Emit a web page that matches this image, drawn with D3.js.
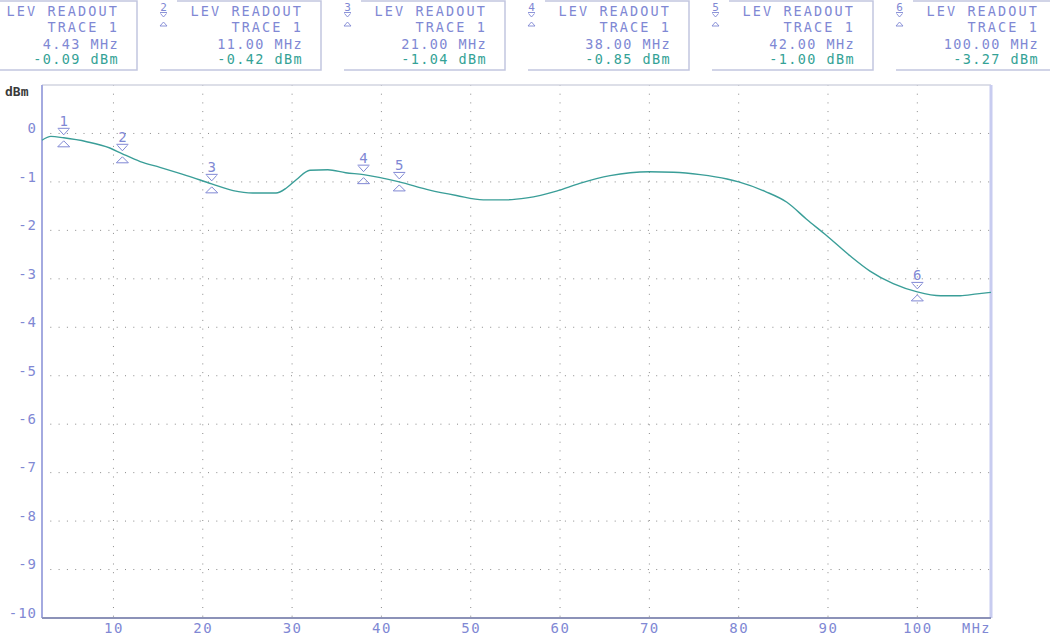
<!DOCTYPE html>
<html>
<head>
<meta charset="utf-8">
<script src="https://cdn.jsdelivr.net/npm/d3@7/dist/d3.min.js"></script>
<style>
  html, body { margin: 0; padding: 0; background: #ffffff; }
  svg { display: block; }
  text { font-family: "DejaVu Sans Mono", "Liberation Mono", monospace; }
</style>
</head>
<body>
<svg id="chart" width="1050" height="641"></svg>
<script>
// ---- data ----
const freqs = [2, 3, 4.43, 7, 9.6, 11, 13, 15.2, 18.2, 21, 23.4, 25.6, 28.2, 29.4, 30.5, 32, 34, 36, 38, 42, 45.4, 48.4, 51.4, 54, 56.3, 59.6, 62.2, 65.6, 70, 72.7, 75.7, 78.7, 80, 83, 85.4, 87.6, 89.8, 92.5, 94.7, 97.3, 100, 102.6, 104.8, 106.7, 108.25];
const levels = [-0.14, -0.06, -0.09, -0.17, -0.30, -0.42, -0.58, -0.70, -0.87, -1.04, -1.18, -1.23, -1.23, -1.12, -0.95, -0.76, -0.75, -0.81, -0.85, -1.00, -1.17, -1.28, -1.37, -1.37, -1.33, -1.19, -1.03, -0.87, -0.79, -0.80, -0.85, -0.94, -1.00, -1.20, -1.42, -1.77, -2.10, -2.53, -2.84, -3.10, -3.27, -3.35, -3.35, -3.31, -3.28];

const markerNums = [1, 2, 3, 4, 5, 6];
const markerFreqs = [4.43, 11.00, 21.00, 38.00, 42.00, 100.00];
const markerLevels = [-0.09, -0.42, -1.04, -0.85, -1.00, -3.27];

const xTicks = [10, 20, 30, 40, 50, 60, 70, 80, 90, 100];
const yTicks = [0, -1, -2, -3, -4, -5, -6, -7, -8, -9, -10];

// ---- styling ----
const lav = "#8088d4";
const teal = "#34a296";
const svg = d3.select("#chart");

const L = 42, R = 991, T = 85, B = 618;
const x = d3.scaleLinear().domain([2, 108.25]).range([L, R]);
const y = d3.scaleLinear().domain([-10, 1]).range([B, T]);

// ---- header readout boxes ----
const boxW = 161, boxH = 70, boxStep = 184, box0 = -24;
const boxes = svg.append("g").selectAll("g").data(markerNums).join("g")
  .attr("transform", (d, i) => `translate(${box0 + i * boxStep},0)`);
boxes.append("path")
  .attr("d", `M17,1 H${boxW} V${boxH} H0`)
  .attr("fill", "none").attr("stroke", "#c2c6e0").attr("stroke-width", 1.5);
// small marker glyph at box left (only where it falls inside the picture)
const glyphBoxes = boxes.filter((d, i) => box0 + i * boxStep >= 0);
glyphBoxes.append("text").attr("x", 3.5).attr("y", 10.5).attr("text-anchor", "middle")
  .attr("font-size", 11).attr("fill", lav).text(d => d);
glyphBoxes.append("path").attr("d", "M0,12.5 H7 M0.5,13.5 L3.5,17 L6.5,13.5")
  .attr("fill", "none").attr("stroke", lav).attr("stroke-width", 0.9);
glyphBoxes.append("path").attr("d", "M0,26 H7 L3.5,22 Z")
  .attr("fill", "none").attr("stroke", lav).attr("stroke-width", 0.9);
const tx = 143;
boxes.append("text").attr("x", tx).attr("y", 16).attr("text-anchor", "end")
  .attr("font-size", 13.5).attr("letter-spacing", "2.1px").attr("fill", lav).text("LEV READOUT");
boxes.append("text").attr("x", tx).attr("y", 32).attr("text-anchor", "end")
  .attr("font-size", 13.5).attr("letter-spacing", "2.1px").attr("fill", lav).text("TRACE 1");
boxes.append("text").attr("x", tx).attr("y", 49).attr("text-anchor", "end")
  .attr("font-size", 13.5).attr("letter-spacing", "1.4px").attr("fill", lav)
  .text((d, i) => markerFreqs[i].toFixed(2) + " MHz");
boxes.append("text").attr("x", tx).attr("y", 64).attr("text-anchor", "end")
  .attr("font-size", 13.5).attr("letter-spacing", "1.4px").attr("fill", teal)
  .text((d, i) => markerLevels[i].toFixed(2) + " dBm");

// ---- grid ----
const grid = svg.append("g");
grid.selectAll("line.h").data(yTicks.filter(v => v > -10)).join("line")
  .attr("x1", L).attr("x2", R).attr("y1", d => y(d)).attr("y2", d => y(d))
  .attr("stroke", "#8a8a8a").attr("stroke-width", 1).attr("stroke-dasharray", "1,7.3");
grid.selectAll("line.v").data(xTicks).join("line")
  .attr("x1", d => x(d)).attr("x2", d => x(d)).attr("y1", T).attr("y2", B)
  .attr("stroke", "#8a8a8a").attr("stroke-width", 1).attr("stroke-dasharray", "1,7.7");

// frame
svg.append("line").attr("x1", L).attr("x2", R).attr("y1", T).attr("y2", T)
  .attr("stroke", "#d2d4e0").attr("stroke-width", 1.5);
svg.append("line").attr("x1", R).attr("x2", R).attr("y1", T).attr("y2", B)
  .attr("stroke", "#c8ccf0").attr("stroke-width", 3);

// ---- axes ----
const yAxis = svg.append("g").attr("transform", `translate(${L},0)`)
  .call(d3.axisLeft(y).tickValues(yTicks).tickSize(0).tickPadding(5).tickFormat(d => String(d)));
yAxis.select(".domain").attr("stroke", "#a4aae0").attr("stroke-width", 2)
  .attr("d", `M0,${T}V${B}`);
yAxis.selectAll("text").attr("font-size", 14).attr("fill", lav)
  .attr("font-family", "DejaVu Sans Mono, monospace").attr("letter-spacing", "1px")
  .attr("dy", "-0.05em");

const xAxis = svg.append("g").attr("transform", `translate(0,${B})`)
  .call(d3.axisBottom(x).tickValues(xTicks).tickSize(0).tickPadding(5).tickFormat(d => String(d)));
xAxis.select(".domain").attr("stroke", "#8c92b8").attr("stroke-width", 2)
  .attr("d", `M${L},0H${R}`);
xAxis.selectAll("text").attr("font-size", 14).attr("fill", lav)
  .attr("font-family", "DejaVu Sans Mono, monospace").attr("letter-spacing", "1.5px");

svg.append("text").attr("x", R).attr("y", 633).attr("text-anchor", "end")
  .attr("font-size", 13.5).attr("letter-spacing", "1.5px").attr("fill", lav).text("MHz");
svg.append("text").attr("x", 5).attr("y", 96)
  .attr("font-size", 13).attr("font-weight", "bold").attr("fill", "#3a3a3a").text("dBm");

// ---- trace ----
const pts = freqs.map((f, i) => [f, levels[i]]);
svg.append("path").datum(pts)
  .attr("fill", "none").attr("stroke", "#3a9e98").attr("stroke-width", 1.4)
  .attr("d", d3.line().x(d => x(d[0])).y(d => y(d[1])).curve(d3.curveMonotoneX));

// ---- markers on trace ----
const mk = svg.append("g").selectAll("g").data(markerNums).join("g")
  .attr("transform", (d, i) => `translate(${x(markerFreqs[i])},${y(markerLevels[i])})`);
mk.append("text").attr("x", 0).attr("y", -12).attr("text-anchor", "middle")
  .attr("font-size", 14).attr("fill", lav).text(d => d);
mk.append("path").attr("d", "M-6,-9.5 H6 M-5,-8.5 L0,-3 L5,-8.5")
  .attr("fill", "none").attr("stroke", lav).attr("stroke-width", 1);
mk.append("path").attr("d", "M-6,9 H6 L0,3 Z")
  .attr("fill", "none").attr("stroke", lav).attr("stroke-width", 1);
</script>
</body>
</html>
